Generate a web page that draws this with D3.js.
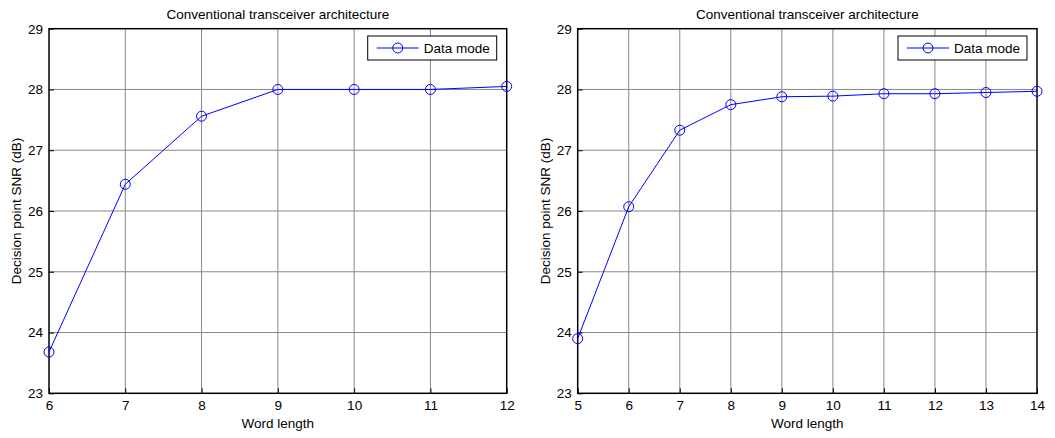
<!DOCTYPE html>
<html>
<head>
<meta charset="utf-8">
<script src="https://cdn.jsdelivr.net/npm/d3@7"></script>
<style>
  body { margin: 0; background: #fff; }
  svg text { font-family: Arial, "Liberation Sans", sans-serif; fill: #000; }
</style>
</head>
<body>
<svg id="chart" width="1055" height="438"></svg>
<script>
// left panel
const leftX = [6, 7, 8, 9, 10, 11, 12];
const leftSNR = [23.68, 26.44, 27.56, 28.0, 28.0, 28.0, 28.05];
// right panel
const rightX = [5, 6, 7, 8, 9, 10, 11, 12, 13, 14];
const rightSNR = [23.9, 26.07, 27.33, 27.75, 27.88, 27.89, 27.93, 27.93, 27.95, 27.97];

const yTicks = [23, 24, 25, 26, 27, 28, 29];
const title = 'Conventional transceiver architecture';
const xLabel = 'Word length';
const yLabel = 'Decision point SNR (dB)';
const legendLabel = 'Data mode';

const FS = '13.5px';
const svg = d3.select('#chart');

function drawPanel(xs, ys, left, right) {
    const top = 28.7, bottom = 393.3;
    const x = d3.scaleLinear().domain([d3.min(xs), d3.max(xs)]).range([left, right]);
    const y = d3.scaleLinear().domain([23, 29]).range([bottom, top]);
    const g = svg.append('g');

    // grid
    g.selectAll('line.vgrid')
        .data(xs.slice(1, -1))
        .enter().append('line')
        .attr('x1', d => x(d)).attr('x2', d => x(d))
        .attr('y1', top).attr('y2', bottom)
        .style('stroke', '#888').style('stroke-width', 1);
    g.selectAll('line.hgrid')
        .data(yTicks.slice(1, -1))
        .enter().append('line')
        .attr('x1', left).attr('x2', right)
        .attr('y1', d => y(d)).attr('y2', d => y(d))
        .style('stroke', '#888').style('stroke-width', 1);

    // axes
    const xAxis = d3.axisBottom(x).tickValues(xs).tickSize(-5).tickPadding(7).tickFormat(d3.format('d'));
    const yAxis = d3.axisLeft(y).tickValues(yTicks).tickSize(-5).tickPadding(6).tickFormat(d3.format('d'));
    const gx = g.append('g').attr('transform', `translate(0,${bottom})`).call(xAxis);
    const gy = g.append('g').attr('transform', `translate(${left},0)`).call(yAxis);
    [gx, gy].forEach(a => {
        a.select('.domain').remove();
        a.selectAll('.tick line').style('stroke', '#000');
        a.selectAll('.tick text').style('font-size', FS);
    });

    // frame
    g.append('rect')
        .attr('x', left).attr('y', top)
        .attr('width', right - left).attr('height', bottom - top)
        .style('fill', 'none').style('stroke', '#000').style('stroke-width', 1.5);

    // series
    const line = d3.line().x((d, i) => x(xs[i])).y(d => y(d));
    g.append('path').datum(ys)
        .attr('d', line)
        .style('fill', 'none').style('stroke', '#0000ff').style('stroke-width', 1);
    g.selectAll('circle.pt')
        .data(ys)
        .enter().append('circle')
        .attr('cx', (d, i) => x(xs[i])).attr('cy', d => y(d))
        .attr('r', 5)
        .style('fill', 'none').style('stroke', '#0000ff').style('stroke-width', 1);

    // title + labels
    g.append('text')
        .attr('x', (left + right) / 2).attr('y', 19)
        .attr('text-anchor', 'middle').style('font-size', FS)
        .text(title);
    g.append('text')
        .attr('x', (left + right) / 2).attr('y', 428)
        .attr('text-anchor', 'middle').style('font-size', FS)
        .text(xLabel);
    g.append('text')
        .attr('transform', `translate(${left - 28},${(top + bottom) / 2}) rotate(-90)`)
        .attr('text-anchor', 'middle').style('font-size', FS)
        .text(yLabel);

    // legend
    const lw = 129, lh = 24;
    const lx = right - 10 - lw, ly = 36;
    const lg = g.append('g').attr('transform', `translate(${lx},${ly})`);
    lg.append('rect').attr('width', lw).attr('height', lh)
        .style('fill', '#fff').style('stroke', '#000').style('stroke-width', 1);
    lg.append('line').attr('x1', 9).attr('x2', 51).attr('y1', lh / 2).attr('y2', lh / 2)
        .style('stroke', '#0000ff');
    lg.append('circle').attr('cx', 30).attr('cy', lh / 2).attr('r', 5)
        .style('fill', 'none').style('stroke', '#0000ff');
    lg.append('text').attr('x', 56).attr('y', lh / 2 + 5)
        .style('font-size', FS).text(legendLabel);
}

drawPanel(leftX, leftSNR, 49, 506.7);
drawPanel(rightX, rightSNR, 577.7, 1037);
</script>
</body>
</html>
